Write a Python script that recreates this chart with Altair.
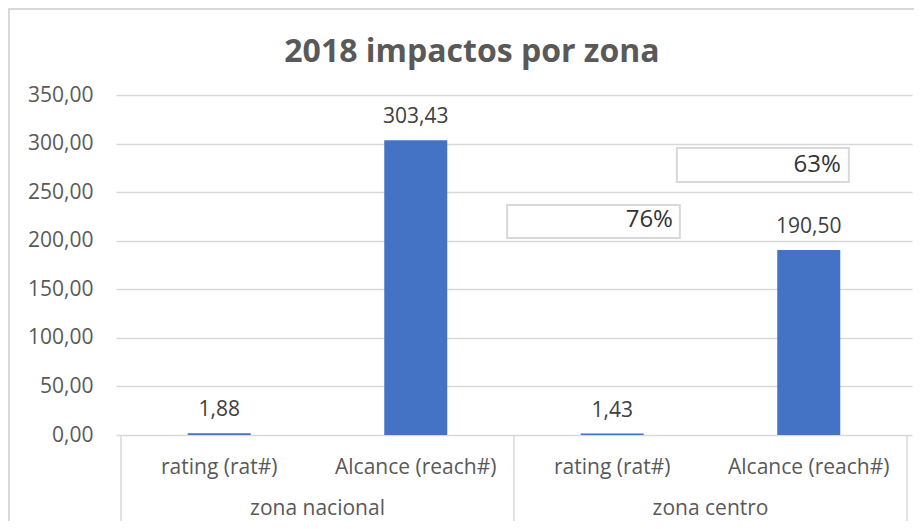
import altair as alt
import pandas as pd

# ---- data ----
zones = ["zona nacional", "zona nacional", "zona centro", "zona centro"]
metrics = ["rating (rat#)", "Alcance (reach#)", "rating (rat#)", "Alcance (reach#)"]
values = [1.88, 303.43, 1.43, 190.50]
zone_names = ["zona nacional", "zona centro"]
zone_edges = [0, 2, 4]
y_ticks = [0, 50, 100, 150, 200, 250, 300, 350]
pct_labels = ["76%", "63%"]
title_text = ["2018 impactos por zona"]

# annotation boxes (in data units of the chart's scales)
box_x1 = [1.965, 2.829]
box_x2 = [2.844, 3.704]
box_y1 = [236.8, 295.4]
box_y2 = [202.8, 260.4]
txt_x = [2.809, 3.663]
txt_y = [221.3, 277.9]

FONT = "Open Sans"
BLUE = "#4472C4"
GRID = "#D9D9D9"
AXIS_TXT = "#595959"

df = pd.DataFrame({
    "idx": list(range(len(values))),
    "zone": zones,
    "metric": metrics,
    "value": values,
    "label": [f"{v:.2f}".replace(".", ",") for v in values],
})
df_z = pd.DataFrame({"zi": list(range(len(zone_names))), "zone": zone_names})
df_e = pd.DataFrame({"edge": zone_edges})
df_a = pd.DataFrame({"pct": pct_labels, "x1": box_x1, "x2": box_x2,
                     "y1": box_y1, "y2": box_y2, "tx": txt_x, "ty": txt_y})
df_t = pd.DataFrame({"t": title_text})
df_one = pd.DataFrame({"k": [0]})

xscale = alt.Scale(domain=[0, 4], nice=False, zero=False)
yscale = alt.Scale(domain=[0, 350], nice=False)

base = alt.Chart(df).transform_calculate(pos="datum.idx + 0.5")

bars = base.mark_bar(size=63, color=BLUE).encode(
    x=alt.X("pos:Q", scale=xscale, axis=None),
    y=alt.Y("value:Q", scale=yscale, title=None,
            axis=alt.Axis(values=y_ticks,
                          labelExpr="replace(format(datum.value, '.2f'), '.', ',')",
                          grid=True, gridColor=GRID, gridWidth=1.3,
                          domain=False, ticks=False, labelPadding=23,
                          labelFontSize=21, labelColor=AXIS_TXT, labelFont=FONT)),
)

value_labels = base.mark_text(dy=-17, baseline="alphabetic", fontSize=21,
                              color="#404040", font=FONT).encode(
    x=alt.X("pos:Q", scale=xscale, axis=None),
    y=alt.Y("value:Q", scale=yscale, title=None),
    text="label:N",
)

cat_labels = base.mark_text(baseline="middle", fontSize=21, color=AXIS_TXT,
                            font=FONT).encode(
    x=alt.X("pos:Q", scale=xscale, axis=None),
    y=alt.datum(-33.5),
    text="metric:N",
)

zone_labels = alt.Chart(df_z).transform_calculate(zc="datum.zi * 2 + 1").mark_text(
    baseline="alphabetic", fontSize=21, color=AXIS_TXT, font=FONT).encode(
    x=alt.X("zc:Q", scale=xscale, axis=None),
    y=alt.datum(-82.0),
    text="zone:N",
)

separators = alt.Chart(df_e).mark_rule(color=GRID, strokeWidth=1.5).encode(
    x=alt.X("edge:Q", scale=xscale, axis=None),
    y=alt.datum(0),
    y2=alt.datum(-89),
)

boxes = alt.Chart(df_a).mark_rect(fill="white", stroke=GRID, strokeWidth=2).encode(
    x=alt.X("x1:Q", scale=xscale, axis=None),
    x2="x2:Q",
    y=alt.Y("y1:Q", scale=yscale, title=None),
    y2="y2:Q",
)

pct_text = alt.Chart(df_a).mark_text(align="right", baseline="middle", fontSize=24,
                                     color="#333333", font=FONT).encode(
    x=alt.X("tx:Q", scale=xscale, axis=None),
    y=alt.Y("ty:Q", scale=yscale, title=None),
    text="pct:N",
)

title = alt.Chart(df_t).mark_text(baseline="alphabetic", align="center", fontSize=32,
                                  fontWeight="bold", color=AXIS_TXT, font=FONT).encode(
    x=alt.datum(1.786),
    y=alt.datum(384),
    text="t:N",
)

frame_left = alt.Chart(df_one).mark_rule(color=GRID, strokeWidth=2).encode(
    x=alt.value(-107), y=alt.value(-87), y2=alt.value(430))
frame_top = alt.Chart(df_one).mark_rule(color=GRID, strokeWidth=2).encode(
    x=alt.value(-108), x2=alt.value(800), y=alt.value(-86))

chart = alt.layer(
    frame_left, frame_top, separators, bars, value_labels, cat_labels,
    zone_labels, boxes, pct_text, title,
).properties(
    width=796, height=340,
    autosize=alt.AutoSizeParams(type="none"),
    padding={"left": 108, "top": 87, "right": 2, "bottom": 86},
).configure_view(stroke=None)

chart.save("out.html", embed_options={"renderer": "svg", "actions": False})
